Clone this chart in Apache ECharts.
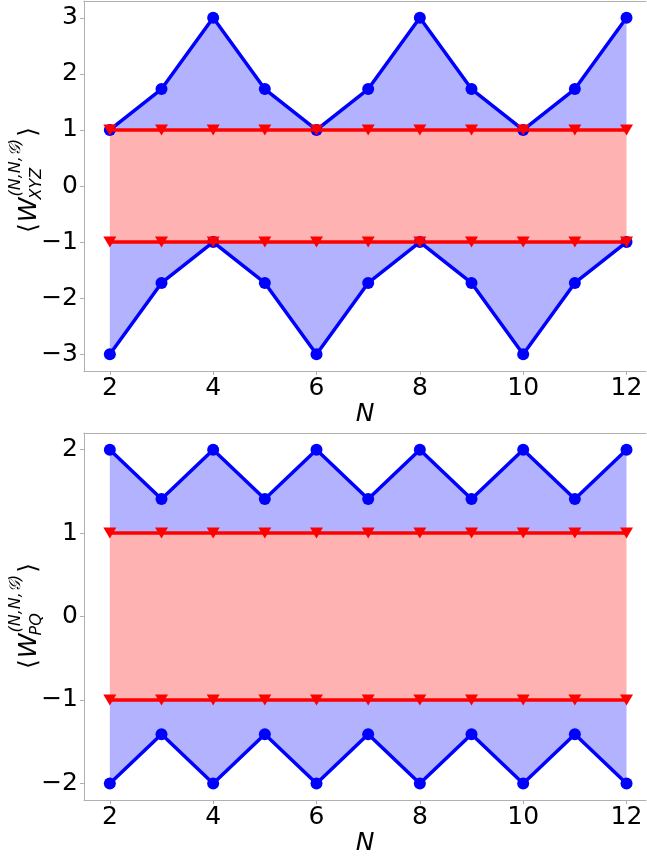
<!DOCTYPE html>
<html>
<head>
<meta charset="utf-8">
<script src="https://cdn.jsdelivr.net/npm/echarts@6/dist/echarts.min.js"></script>
<style>html,body{margin:0;padding:0;background:#fff}#c{width:647px;height:857px}</style>
</head>
<body>
<div id="c"></div>
<script>
var N = [2, 3, 4, 5, 6, 7, 8, 9, 10, 11, 12];
var xyzBlueUpper = [1, 1.73, 3, 1.73, 1, 1.73, 3, 1.73, 1, 1.73, 3];
var xyzBlueLower = [-3, -1.73, -1, -1.73, -3, -1.73, -1, -1.73, -3, -1.73, -1];
var xyzRedUpper = [1, 1, 1, 1, 1, 1, 1, 1, 1, 1, 1];
var xyzRedLower = [-1, -1, -1, -1, -1, -1, -1, -1, -1, -1, -1];
var pqBlueUpper = [2, 1.41, 2, 1.41, 2, 1.41, 2, 1.41, 2, 1.41, 2];
var pqBlueLower = [-2, -1.41, -2, -1.41, -2, -1.41, -2, -1.41, -2, -1.41, -2];
var pqRedUpper = [1, 1, 1, 1, 1, 1, 1, 1, 1, 1, 1];
var pqRedLower = [-1, -1, -1, -1, -1, -1, -1, -1, -1, -1, -1];
var xTicks = [2, 4, 6, 8, 10, 12];
var yTicksTop = [-3, -2, -1, 0, 1, 2, 3];
var yTicksBottom = [-2, -1, 0, 1, 2];

var FONT = 'DejaVu Sans';
var GRAY = '#b0b0b0';
var BLUE = '#0000ff', RED = '#ff0000';
var BLUE_FILL = 'rgba(0,0,255,0.3)', RED_FILL = 'rgba(255,0,0,0.3)';
var X_MIN = 1.5, X_MAX = 12.377; // right part of the plot box is cut off by the image edge

function pairs(xs, ys) { return xs.map(function (x, i) { return [x, ys[i]]; }); }
function fmt(v) { return String(v).replace('-', '\u2212'); }

function xAxis(gi) {
  return {
    type: 'value', gridIndex: gi, min: X_MIN, max: X_MAX, position: 'bottom',
    name: 'N', nameLocation: 'middle', nameGap: 27,
    nameTextStyle: { fontFamily: FONT, fontSize: 25, fontStyle: 'italic', color: '#000' },
    axisLine: { show: true, onZero: false, lineStyle: { color: GRAY, width: 1 } },
    axisTick: { show: true, length: 4, customValues: xTicks, lineStyle: { color: GRAY } },
    axisLabel: { customValues: xTicks, margin: 5, fontFamily: FONT, fontSize: 25, color: '#000', formatter: fmt },
    splitLine: { show: false }
  };
}
function xTopAxis(gi) {
  return {
    type: 'value', gridIndex: gi, min: X_MIN, max: X_MAX, position: 'top',
    axisLine: { show: true, onZero: false, lineStyle: { color: GRAY, width: 1 } },
    axisTick: { show: false }, axisLabel: { show: false }, splitLine: { show: false }
  };
}
function yAxis(gi, lo, hi, ticks) {
  return {
    type: 'value', gridIndex: gi, min: lo, max: hi, position: 'left',
    axisLine: { show: true, onZero: false, lineStyle: { color: GRAY, width: 1 } },
    axisTick: { show: true, length: 4, customValues: ticks, lineStyle: { color: GRAY } },
    axisLabel: { customValues: ticks, margin: 6, fontFamily: FONT, fontSize: 25, color: '#000', formatter: fmt },
    splitLine: { show: false }
  };
}
function fill(gi, ys, origin, color) {
  return {
    type: 'line', xAxisIndex: gi, yAxisIndex: gi, data: pairs(N, ys),
    showSymbol: false, symbol: 'none', silent: true,
    lineStyle: { width: 0, opacity: 0 },
    areaStyle: { origin: origin, color: color, opacity: 1 },
    z: 1
  };
}
function line(gi, ys, color, isRed) {
  return {
    type: 'line', xAxisIndex: gi, yAxisIndex: gi, data: pairs(N, ys),
    symbol: isRed ? 'triangle' : 'circle',
    symbolSize: isRed ? [13, 11] : 12,
    symbolRotate: isRed ? 180 : 0,
    showSymbol: true,
    lineStyle: { width: 3.5, color: color },
    itemStyle: { color: color, opacity: 1 },
    z: isRed ? 4 : 3
  };
}

var chart = echarts.init(document.getElementById('c'), null, { renderer: 'canvas' });

var ctx = document.createElement('canvas').getContext('2d');
function w(text, size, italic) {
  ctx.font = (italic ? 'italic ' : '') + size + 'px "' + FONT + '"';
  return ctx.measureText(text).width;
}
function yLabel(cx, cy, sub) {
  var big = 25, small = 16;
  var els = [];
  var x = 0;
  function add(text, size, italic, dx, dy) {
    els.push({ type: 'text', x: dx, y: dy, style: {
      text: text, font: (italic ? 'italic ' : '') + size + 'px "' + FONT + '"',
      fill: '#000', align: 'left', verticalAlign: 'bottom' } });
  }
  add('\u27E8', big, false, x, 5); x += w('\u27E8', big, false) + 1;
  add('W', big, true, x, 5); x += w('W', big, true);
  var supT = '(N,N,\uD835\uDCA2)';
  var supW = w(supT, small, true), subW = w(sub, small, true);
  add(supT, small, true, x + 1, -13);
  add(sub, small, true, x - 2, 8);
  x += Math.max(supW + 1, subW - 2) + 2;
  add('\u27E9', big, false, x, 5); x += w('\u27E9', big, false);
  var total = x;
  els.forEach(function (e) { e.x -= total / 2; });
  return { type: 'group', x: cx, y: cy, rotation: Math.PI / 2, children: els };
}

chart.setOption({
  animation: false,
  backgroundColor: '#fff',
  grid: [
    { left: 84, top: 1, right: 1, height: 370, show: false },
    { left: 84, top: 433, right: 1, height: 368, show: false }
  ],
  xAxis: [xAxis(0), xAxis(1), xTopAxis(0), xTopAxis(1)],
  yAxis: [yAxis(0, -3.3, 3.3, yTicksTop), yAxis(1, -2.2, 2.2, yTicksBottom)],
  series: [
    fill(0, xyzBlueUpper, 1, BLUE_FILL),
    fill(0, xyzBlueLower, -1, BLUE_FILL),
    fill(0, xyzRedUpper, -1, RED_FILL),
    line(0, xyzBlueUpper, BLUE, false),
    line(0, xyzBlueLower, BLUE, false),
    line(0, xyzRedUpper, RED, true),
    line(0, xyzRedLower, RED, true),
    fill(1, pqBlueUpper, 1, BLUE_FILL),
    fill(1, pqBlueLower, -1, BLUE_FILL),
    fill(1, pqRedUpper, -1, RED_FILL),
    line(1, pqBlueUpper, BLUE, false),
    line(1, pqBlueLower, BLUE, false),
    line(1, pqRedUpper, RED, true),
    line(1, pqRedLower, RED, true)
  ],
  graphic: [yLabel(37, 180, 'XYZ'), yLabel(37, 616, 'PQ')]
});
</script>
</body>
</html>
